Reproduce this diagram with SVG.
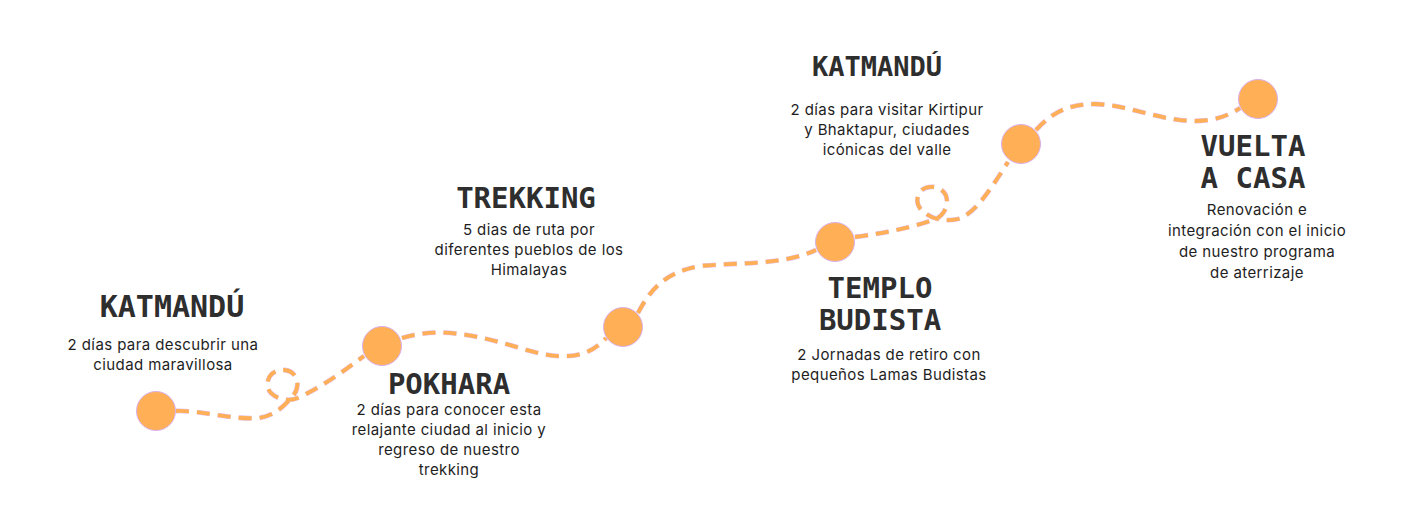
<svg xmlns="http://www.w3.org/2000/svg" width="1410" height="508" viewBox="0 0 1410 508">
  <style>
    .dot { fill: #FFB057; stroke: #D9B0EE; stroke-width: 1; }
    .title { font-family: "DejaVu Sans Mono", "Liberation Mono", monospace; font-weight: bold; font-size: 29px; fill: #2e2e2e; text-anchor: middle; }
    .body { font-family: Inter, "Liberation Sans", sans-serif; font-size: 15px; letter-spacing: 0.4px; fill: #1e1e1e; text-anchor: middle; }
    .trail-under { fill: none; stroke: #E2BFEF; stroke-width: 4.8; stroke-dasharray: 13 8; }
    .trail { fill: none; stroke: #FFB057; stroke-width: 3.8; stroke-dasharray: 13 8; }
  </style>
  <rect width="1410" height="508" fill="#ffffff"/>
  <defs>
    <path id="p1" d="M176,411 C200,410 230,420 258,418 C275,416 285,405 292,397 C301,388 299,371 284,370 C269,369 263,385 271,393 C278,400 290,402 300,397 C325,385 345,370 364,356"/>
    <path id="p2" d="M402,338 C440,326 480,336 520,348 C555,359 585,362 606,338"/>
    <path id="p3" d="M638,313 C650,290 665,272 700,266 C740,262 780,266 816,250"/>
    <path id="p4" d="M855,237 C885,233 910,228 936,219 C950,212 952,190 934,187 C916,185 912,205 925,213 C932,219 945,222 958,219 C975,214 990,190 1008,162"/>
    <path id="p5" d="M1036,130 C1050,115 1065,104 1095,104 C1130,105 1160,121 1195,121 C1215,121 1230,115 1240,108"/>
  </defs>
  <g id="connectors">
    <use href="#p1" class="trail-under"/><use href="#p1" class="trail"/>
    <use href="#p2" class="trail-under"/><use href="#p2" class="trail"/>
    <use href="#p3" class="trail-under"/><use href="#p3" class="trail"/>
    <use href="#p4" class="trail-under"/><use href="#p4" class="trail"/>
    <use href="#p5" class="trail-under"/><use href="#p5" class="trail"/>
  </g>
  <g id="katmandu-1">
    <circle class="dot" cx="156" cy="411" r="19.5"/>
    <text class="title" x="172" y="317" style="font-size:30px">KATMANDÚ</text>
    <text class="body" x="163" y="350">2 días para descubrir una</text>
    <text class="body" x="163" y="370">ciudad maravillosa</text>
  </g>
  <g id="pokhara">
    <circle class="dot" cx="382" cy="346" r="19.5"/>
    <text class="title" x="449" y="394">POKHARA</text>
    <text class="body" x="449" y="415">2 días para conocer esta</text>
    <text class="body" x="449" y="435">relajante ciudad al inicio y</text>
    <text class="body" x="449" y="455">regreso de nuestro</text>
    <text class="body" x="449" y="475">trekking</text>
  </g>
  <g id="trekking">
    <circle class="dot" cx="623" cy="327" r="19.5"/>
    <text class="title" x="526" y="208">TREKKING</text>
    <text class="body" x="529" y="235">5 dias de ruta por</text>
    <text class="body" x="529" y="255">diferentes pueblos de los</text>
    <text class="body" x="529" y="275">Himalayas</text>
  </g>
  <g id="templo-budista">
    <circle class="dot" cx="835" cy="242" r="19.5"/>
    <text class="title" x="880" y="298">TEMPLO</text>
    <text class="title" x="880" y="330">BUDISTA</text>
    <text class="body" x="889" y="360">2 Jornadas de retiro con</text>
    <text class="body" x="889" y="380">pequeños Lamas Budistas</text>
  </g>
  <g id="katmandu-2">
    <circle class="dot" cx="1021" cy="144" r="19.5"/>
    <text class="title" x="877" y="76" style="font-size:27px">KATMANDÚ</text>
    <text class="body" x="887" y="115">2 días para visitar Kirtipur</text>
    <text class="body" x="887" y="135">y Bhaktapur, ciudades</text>
    <text class="body" x="887" y="155">icónicas del valle</text>
  </g>
  <g id="vuelta-a-casa">
    <circle class="dot" cx="1258" cy="99" r="19.5"/>
    <text class="title" x="1253" y="156">VUELTA</text>
    <text class="title" x="1253" y="188">A CASA</text>
    <text class="body" x="1257" y="215">Renovación e</text>
    <text class="body" x="1257" y="236">integración con el inicio</text>
    <text class="body" x="1257" y="257">de nuestro programa</text>
    <text class="body" x="1257" y="278">de aterrizaje</text>
  </g>
</svg>
